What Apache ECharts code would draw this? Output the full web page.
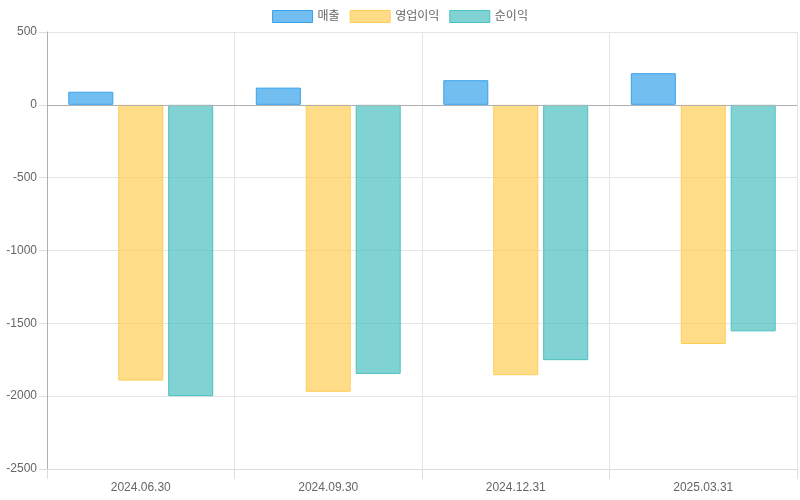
<!DOCTYPE html>
<html>
<head>
<meta charset="utf-8">
<script src="https://cdn.jsdelivr.net/npm/echarts@6/dist/echarts.min.js"></script>
<style>
    html, body { margin: 0; padding: 0; background: #fff; }
    #chart { width: 800px; height: 500px; }
</style>
</head>
<body>
<div id="chart"></div>
<script>
// 분기별 데이터
var quarters = ['2024.06.30', '2024.09.30', '2024.12.31', '2025.03.31'];
var sales = [90, 118, 169, 217];
var operatingProfit = [-1893, -1970, -1856, -1642];
var netProfit = [-2000, -1847, -1753, -1555];
var yTicks = { min: -2500, max: 500, step: 500 };

var font = '"Liberation Sans", "Noto Sans CJK KR", sans-serif';

(function() {
    var myChart = echarts.init(document.getElementById('chart'));

    function barSeries(name, data, fill, line) {
        return {
            name: name,
            type: 'bar',
            data: data,
            barWidth: 45,
            barGap: '11%',
            itemStyle: {
                color: fill,
                borderColor: line,
                borderWidth: 1
            }
        };
    }

    var series = [
        barSeries('매출', sales, 'rgba(54,162,235,0.7)', 'rgb(54,162,235)'),
        barSeries('영업이익', operatingProfit, 'rgba(255,205,86,0.7)', 'rgb(255,205,86)'),
        barSeries('순이익', netProfit, 'rgba(75,192,192,0.7)', 'rgb(75,192,192)')
    ];
    // 0 기준선
    series[0].markLine = {
        silent: true,
        symbol: 'none',
        label: { show: false },
        lineStyle: { color: '#b0b0b0', type: 'solid', width: 1 },
        data: [{ yAxis: 0 }]
    };

    var option = {
        animation: false,
        textStyle: { fontFamily: font },
        legend: {
            top: 5,
            left: 'center',
            itemWidth: 40,
            itemHeight: 12,
            itemGap: 10,
            icon: 'rect',
            itemStyle: { borderWidth: 1 },
            textStyle: { color: '#666', fontSize: 12, fontFamily: font },
            data: ['매출', '영업이익', '순이익']
        },
        grid: {
            left: 47,
            right: 3,
            top: 32,
            bottom: 31,
            containLabel: false
        },
        xAxis: {
            type: 'category',
            data: quarters,
            axisLine: { onZero: false, lineStyle: { color: '#ddd' } },
            axisTick: { show: true, length: 10, interval: 0, lineStyle: { color: '#ddd' } },
            splitLine: { show: true, interval: 0, lineStyle: { color: '#e5e5e5' } },
            axisLabel: { color: '#666', fontSize: 12, margin: 13, fontFamily: font }
        },
        yAxis: {
            type: 'value',
            min: yTicks.min,
            max: yTicks.max,
            interval: yTicks.step,
            axisLine: { show: true, lineStyle: { color: '#b0b0b0' } },
            axisTick: { show: true, length: 8, lineStyle: { color: '#ddd' } },
            splitLine: { show: true, lineStyle: { color: '#e5e5e5' } },
            axisLabel: {
                color: '#666',
                fontSize: 12,
                margin: 10,
                fontFamily: font,
                formatter: function(v) { return String(v); }
            }
        },
        series: series
    };

    myChart.setOption(option);
})();
</script>
</body>
</html>
